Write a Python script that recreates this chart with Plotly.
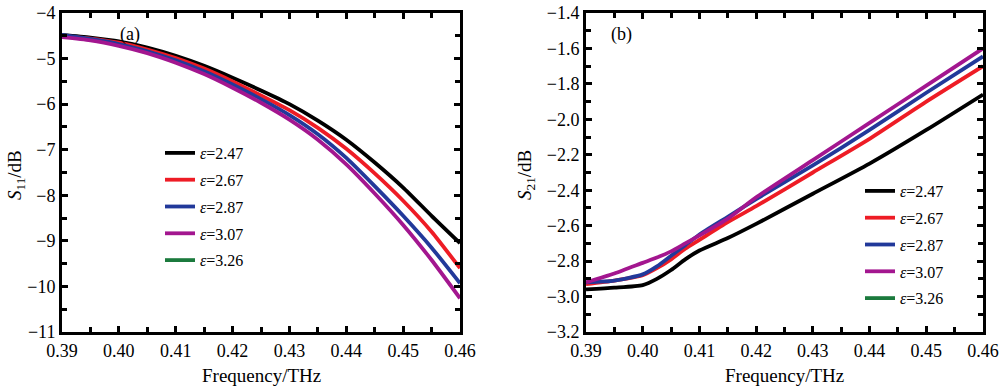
import plotly.graph_objects as go

freq = [0.39, 0.395, 0.40, 0.405, 0.41, 0.415, 0.42, 0.425, 0.43, 0.435, 0.44, 0.445, 0.45, 0.455, 0.46]

labels = ["2.47", "2.67", "2.87", "3.07", "3.26"]
colors = ["#000000", "#ee1c25", "#22399a", "#a3168f", "#1b7a3d"]

# S11 (dB)
s11_247 = [-4.48, -4.54, -4.62, -4.76, -4.94, -5.16, -5.42, -5.70, -6.00, -6.36, -6.78, -7.28, -7.83, -8.45, -9.05]
s11_267 = [-4.50, -4.56, -4.65, -4.80, -4.99, -5.22, -5.50, -5.81, -6.13, -6.52, -6.98, -7.52, -8.12, -8.80, -9.60]
s11_287 = [-4.48, -4.57, -4.68, -4.84, -5.04, -5.28, -5.57, -5.89, -6.24, -6.66, -7.18, -7.80, -8.45, -9.15, -9.93]
s11_307 = [-4.53, -4.60, -4.72, -4.88, -5.09, -5.34, -5.64, -5.97, -6.34, -6.78, -7.32, -7.96, -8.65, -9.42, -10.26]
s11_326 = []

# S21 (dB)
freq21 = [0.39, 0.395, 0.40, 0.4025, 0.405, 0.4075, 0.41, 0.415, 0.42, 0.43, 0.44, 0.45, 0.46]
s21_247 = [-2.96, -2.95, -2.935, -2.90, -2.85, -2.79, -2.74, -2.67, -2.59, -2.42, -2.25, -2.06, -1.86]
s21_267 = [-2.93, -2.91, -2.88, -2.84, -2.79, -2.73, -2.68, -2.58, -2.49, -2.30, -2.11, -1.90, -1.70]
s21_287 = [-2.92, -2.91, -2.875, -2.83, -2.77, -2.71, -2.65, -2.55, -2.45, -2.26, -2.06, -1.85, -1.645]
s21_307 = [-2.92, -2.87, -2.81, -2.78, -2.745, -2.70, -2.655, -2.56, -2.44, -2.23, -2.02, -1.81, -1.60]
s21_326 = []

s11_series = [s11_247, s11_267, s11_287, s11_307, s11_326]
s21_series = [s21_247, s21_267, s21_287, s21_307, s21_326]

xticks = [0.39, 0.40, 0.41, 0.42, 0.43, 0.44, 0.45, 0.46]
yticks11 = [-4, -5, -6, -7, -8, -9, -10, -11]
yticks21 = [-1.4, -1.6, -1.8, -2.0, -2.2, -2.4, -2.6, -2.8, -3.0, -3.2]

FONT = "Liberation Serif, Times New Roman, serif"

fig = go.Figure()

for i, (lab, col, ys) in enumerate(zip(labels, colors, s11_series)):
    fig.add_trace(go.Scatter(
        x=freq if ys else [None], y=ys if ys else [None], mode="lines",
        line=dict(color=col, width=3.8, shape="spline", smoothing=0.6),
        name="<i>ε</i>=" + lab, xaxis="x", yaxis="y", legend="legend",
        legendgroup="a%d" % i))

for i, (lab, col, ys) in enumerate(zip(labels, colors, s21_series)):
    fig.add_trace(go.Scatter(
        x=freq21 if ys else [None], y=ys if ys else [None], mode="lines",
        line=dict(color=col, width=3.8, shape="spline", smoothing=0.6),
        name="<i>ε</i>=" + lab, xaxis="x2", yaxis="y2", legend="legend2",
        legendgroup="b%d" % i))

W = 1000.0
H = 386.0
ydom = [1 - 332 / H, 1 - 13 / H]

axis_common = dict(
    showline=True, linecolor="black", linewidth=3, mirror="allticks",
    ticks="inside", ticklen=6, tickwidth=3, tickcolor="black",
    showgrid=False, zeroline=False, automargin=False,
    tickfont=dict(family=FONT, size=18, color="black"),
)

minor_common = dict(ticks="inside", ticklen=5, tickwidth=3, tickcolor="black")

legend_common = dict(xanchor="left", yanchor="top", bgcolor="rgba(0,0,0,0)",
                     font=dict(family=FONT, size=16, color="black"),
                     tracegroupgap=3, itemwidth=30)

fig.update_layout(
    width=1000, height=386,
    margin=dict(l=0, r=0, t=0, b=0, autoexpand=False),
    paper_bgcolor="white", plot_bgcolor="white",
    font=dict(family=FONT, color="black"),
    xaxis=dict(domain=[62 / W, 460 / W], range=[0.39, 0.46], tickvals=xticks,
               tickformat=".2f", anchor="y",
               minor=dict(dtick=0.005, tick0=0.39, **minor_common),
               **axis_common),
    yaxis=dict(domain=ydom, range=[-11, -4], tickvals=yticks11, anchor="x",
               minor=dict(dtick=0.5, tick0=-11, **minor_common),
               **axis_common),
    xaxis2=dict(domain=[586 / W, 983 / W], range=[0.39, 0.46], tickvals=xticks,
                tickformat=".2f", anchor="y2",
                minor=dict(dtick=0.005, tick0=0.39, **minor_common),
                **axis_common),
    yaxis2=dict(domain=ydom, range=[-3.2, -1.4], tickvals=yticks21, tickformat=".1f", anchor="x2",
                minor=dict(dtick=0.1, tick0=-3.2, **minor_common),
                **axis_common),
    legend=dict(x=160 / W, y=1 - 136 / H, **legend_common),
    legend2=dict(x=860 / W, y=1 - 174 / H, **legend_common),
    showlegend=True,
)

ann = [
    dict(text="Frequency/THz", x=261 / W, y=1 - 375 / H, size=19),
    dict(text="Frequency/THz", x=784 / W, y=1 - 375 / H, size=19),
    dict(text="<i>S</i><sub>11</sub>/dB", x=16 / W, y=1 - 175 / H, textangle=-90, size=19),
    dict(text="<i>S</i><sub>21</sub>/dB", x=526 / W, y=1 - 175 / H, textangle=-90, size=19),
    dict(text="(a)", x=130 / W, y=1 - 35 / H, size=18),
    dict(text="(b)", x=621 / W, y=1 - 35 / H, size=18),
]
for a in ann:
    sz = a.pop("size")
    a.update(xref="paper", yref="paper", showarrow=False, xanchor="center", yanchor="middle",
             font=dict(family=FONT, size=sz, color="black"))
fig.update_layout(annotations=ann)

fig.write_html("out.html", config={"displayModeBar": False},
               post_script="document.body.style.margin='0';document.body.style.overflow='hidden';")
